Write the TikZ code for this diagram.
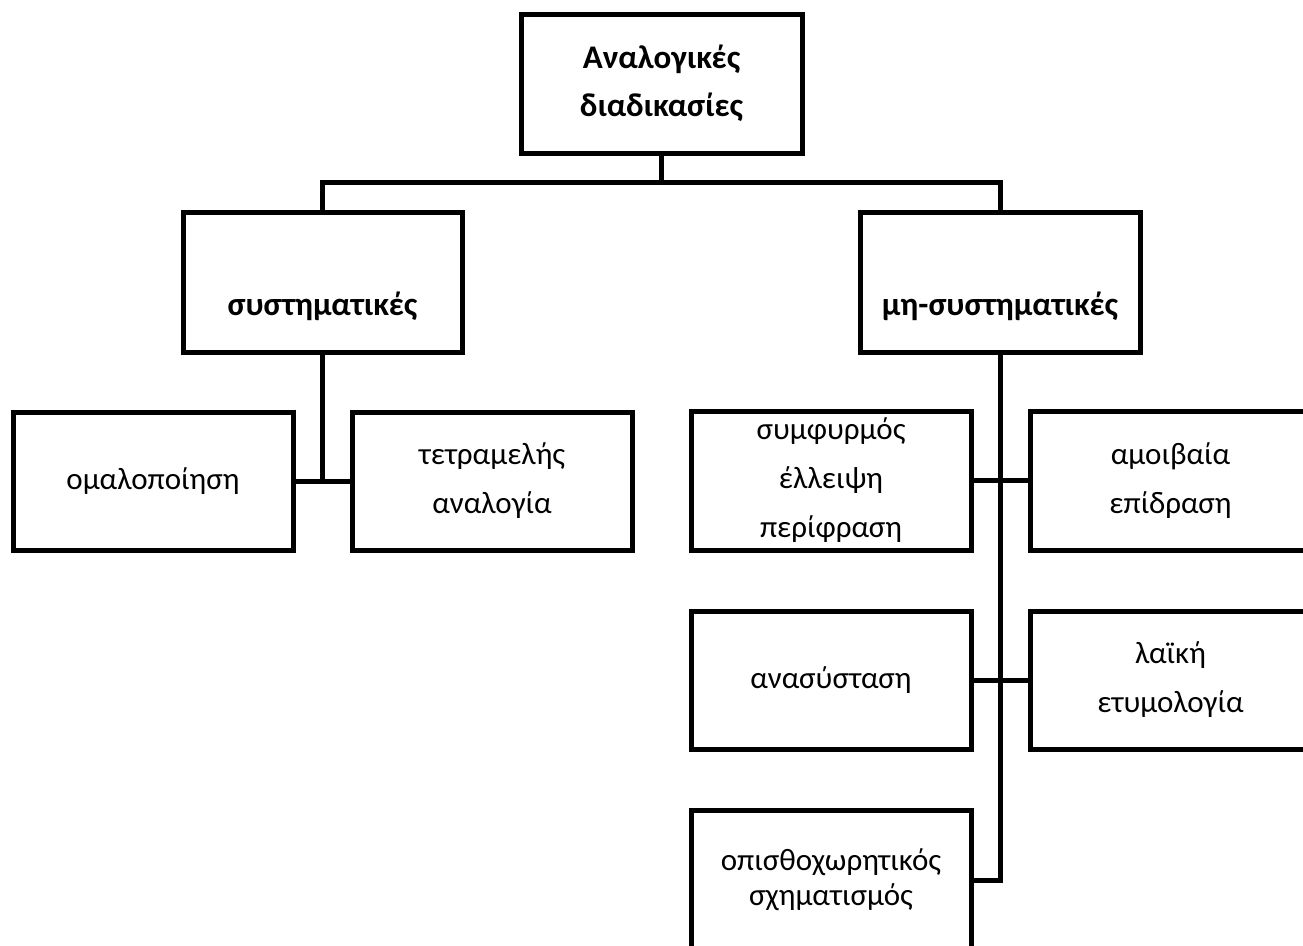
\documentclass[tikz,border=0pt]{standalone}
\usepackage{fontspec}
\setmainfont{Carlito}
\begin{document}
\begin{tikzpicture}[x=1pt,y=-1pt,
  box/.style={draw=black, line width=5pt, rectangle, minimum width=280pt, minimum height=139pt, inner sep=0pt, align=center, font=\fontsize{31}{49}\selectfont},
  boldbox/.style={box, font=\fontsize{33}{48}\selectfont\bfseries},
  conn/.style={line width=5pt}]
\useasboundingbox (0,0) rectangle (1303,945);
% top
\node[boldbox, minimum width=281pt] (top) at (661.5,83.5) {Αναλογικές\\διαδικασίες};
\node[boldbox, minimum width=279pt, minimum height=140pt, text height=66pt, text depth=0pt] (sys) at (322.5,282) {συστηματικές};
\node[boldbox, minimum height=140pt, text height=66pt, text depth=0pt] (nonsys) at (1000,282) {μη-συστηματικές};
% left children
\node[box, minimum height=138pt] (omal) at (153,481) {ομαλοποίηση};
\node[box, minimum height=138pt] (tetr) at (492,481) {τετραμελής\\αναλογία};
% right children
\node[box] (symf) at (831,480.5) {συμφυρμός\\έλλειψη\\περίφραση};
\node[box, minimum width=281pt] (amoi) at (1170.5,480.5) {αμοιβαία\\επίδραση};
\node[box, minimum height=138pt] (anas) at (831,680) {ανασύσταση};
\node[box, minimum width=281pt, minimum height=138pt] (laik) at (1170.5,680) {λαϊκή\\ετυμολογία};
\node[box, minimum height=140pt, font=\fontsize{31}{35}\selectfont] (opis) at (831,880) {οπισθοχωρητικός\\σχηματισμός};
% connectors
\coordinate (j1) at (661.5,182);
\draw[conn] (top.south) -- (j1);
\draw[conn] (sys.north) -- (sys.north |- j1) -- (nonsys.north |- j1) -- (nonsys.north);
\draw[conn] (sys.south) -- (sys.south |- omal.east);
\draw[conn] (omal.east) -- (tetr.west);
\draw[conn] (nonsys.south) -- (nonsys.south |- opis.east) -- (opis.east);
\draw[conn] (symf.east) -- (amoi.west);
\draw[conn] (anas.east) -- (laik.west);
\end{tikzpicture}
\end{document}
